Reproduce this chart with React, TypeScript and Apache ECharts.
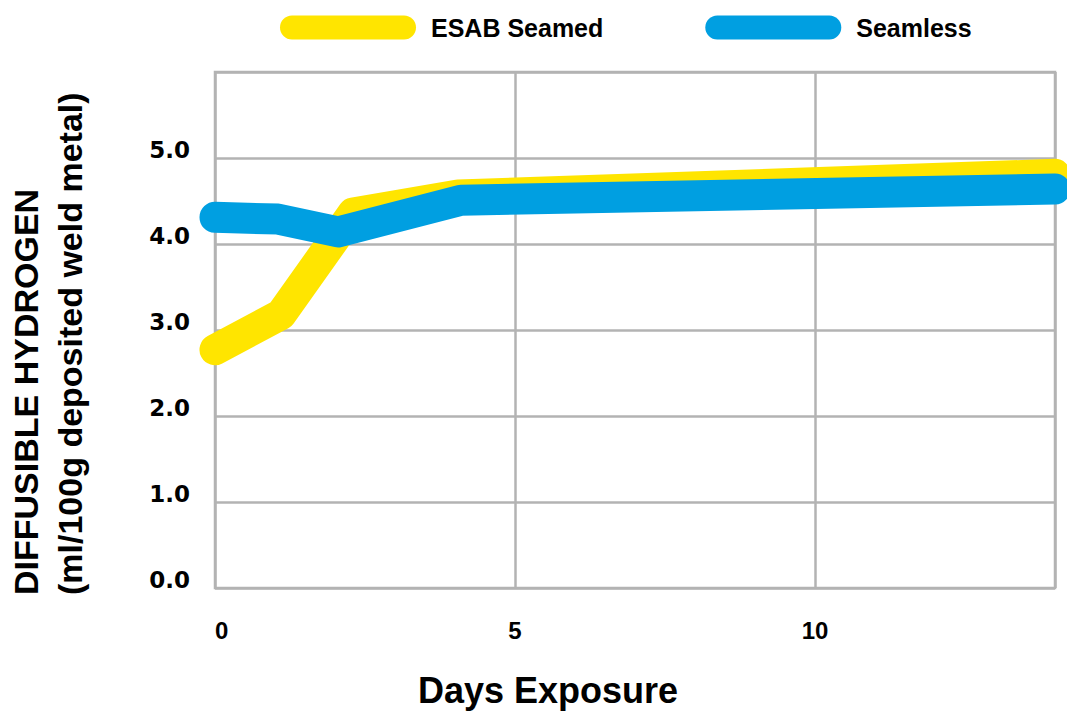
import React, { useEffect, useRef } from "react";
import * as echarts from "echarts";

const seriesNames = ["ESAB Seamed", "Seamless"];
const seamedDays = [0, 1.1, 2.3, 4.05, 14];
const seamedValues = [2.77, 3.18, 4.36, 4.57, 4.81];
const seamlessDays = [0, 1.05, 2.05, 4.1, 14];
const seamlessValues = [4.31, 4.29, 4.14, 4.51, 4.64];
const yTicks = [0, 1, 2, 3, 4, 5];
const xTicks = [0, 5, 10];
const xTitle = "Days Exposure";
const yTitle = ["DIFFUSIBLE HYDROGEN", "(ml/100g deposited weld metal)"];

const YELLOW = "#FFE500";
const BLUE = "#009FE1";
const GRID = "#b3b3b3";
const PILL = "path://M12,0 H124 A12,12 0 0 1 124,24 H12 A12,12 0 0 1 12,0 Z";

export default function App() {
  const ref = useRef<HTMLDivElement>(null);
  useEffect(() => {
    if (!ref.current) return;
    const chart = echarts.init(ref.current, undefined, { renderer: "svg" });
    const pair = (xs: number[], ys: number[]) => xs.map((x, i) => [x, ys[i]]);
    chart.setOption({
      animation: false,
      backgroundColor: "#ffffff",
      grid: {
        left: 215,
        right: 12,
        top: 72,
        bottom: 123,
        show: true,
        borderColor: GRID,
        borderWidth: 2.5,
      },
      legend: {
        left: 275,
        top: 10,
        itemWidth: 136,
        itemHeight: 24,
        itemGap: 102,
        icon: PILL,
        textStyle: {
          fontFamily: "Liberation Sans",
          fontWeight: "bold",
          fontSize: 25,
          color: "#000",
          lineHeight: 24,
          padding: [0, 0, 0, 10],
        },
        data: seriesNames,
      },
      xAxis: {
        type: "value",
        min: 0,
        max: 14,
        interval: 5,
        axisLine: { show: false },
        axisTick: { show: false },
        splitLine: { show: true, lineStyle: { color: GRID, width: 2.5 } },
        axisLabel: {
          margin: 30,
          fontFamily: "Liberation Sans",
          fontWeight: "bold",
          fontSize: 24,
          color: "#000",
          showMaxLabel: false,
          alignMinLabel: "left",
          formatter: (v: number) => (xTicks.includes(v) ? String(v) : ""),
        },
      },
      yAxis: {
        type: "value",
        min: 0,
        max: 6,
        interval: 1,
        axisLine: { show: false },
        axisTick: { show: false },
        splitLine: { show: true, lineStyle: { color: GRID, width: 2.5 } },
        axisLabel: {
          margin: 25,
          fontFamily: "DejaVu Sans",
          fontWeight: "bold",
          fontSize: 23,
          color: "#000",
          verticalAlign: "bottom",
          lineHeight: 16,
          formatter: (v: number) => (yTicks.includes(v) ? v.toFixed(1) : ""),
        },
      },
      graphic: [
        {
          type: "text",
          x: 548,
          y: 690,
          style: {
            text: xTitle,
            textAlign: "center",
            textVerticalAlign: "middle",
            font: 'bold 36px "Liberation Sans"',
            fill: "#000",
          },
        },
        {
          type: "text",
          x: 48,
          y: 595,
          rotation: Math.PI / 2,
          style: {
            text: yTitle.join("\n"),
            textAlign: "left",
            textVerticalAlign: "middle",
            font: 'bold 34px "Liberation Sans"',
            lineHeight: 44,
            fill: "#000",
          },
        },
      ],
      series: [
        {
          name: seriesNames[0],
          type: "line",
          data: pair(seamedDays, seamedValues),
          symbol: "none",
          clip: false,
          color: YELLOW,
          lineStyle: { color: YELLOW, width: 31, cap: "round", join: "round" },
        },
        {
          name: seriesNames[1],
          type: "line",
          data: pair(seamlessDays, seamlessValues),
          symbol: "none",
          clip: false,
          color: BLUE,
          lineStyle: { color: BLUE, width: 31, cap: "round", join: "round" },
        },
      ],
    });
    return () => chart.dispose();
  }, []);
  return (
    <div
      ref={ref}
      style={{ position: "fixed", left: 0, top: 0, width: 1067, height: 711 }}
    />
  );
}
